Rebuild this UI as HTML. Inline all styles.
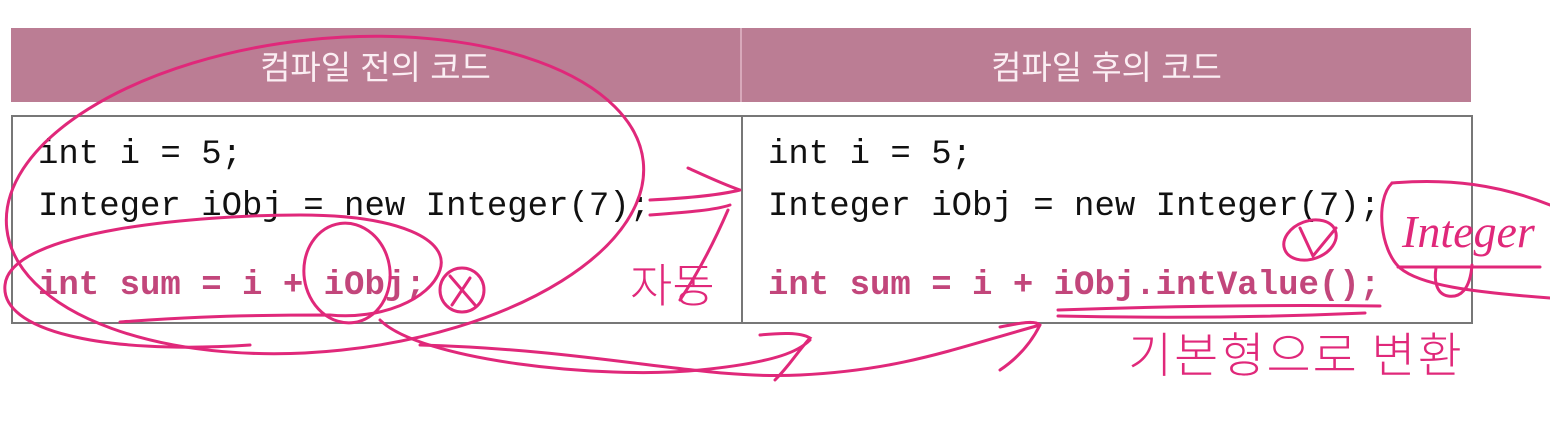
<!DOCTYPE html>
<html><head><meta charset="utf-8"><style>
html,body{margin:0;padding:0;background:#fff;width:1550px;height:436px;overflow:hidden;position:relative}
.hdr{position:absolute;top:28px;height:74px;background:#bb7d94;color:#fbeef3;font:400 33px "Liberation Sans","Noto Sans CJK KR",sans-serif;display:flex;align-items:center;justify-content:center}
.box{position:absolute;left:11px;top:115px;width:1458px;height:205px;border:2px solid #777}
.div{position:absolute;left:741px;top:115px;width:2px;height:207px;background:#777}
.code{position:absolute;font:34px "Liberation Mono",monospace;color:#111;white-space:pre;line-height:1}
.red{color:#c2467b;font-weight:bold}
svg{position:absolute;left:0;top:0}
</style></head><body>
<div class="hdr" style="left:11px;width:729px">컴파일 전의 코드</div>
<div style="position:absolute;left:740px;top:28px;width:2px;height:74px;background:#d8a9bb"></div>
<div class="hdr" style="left:742px;width:729px">컴파일 후의 코드</div>
<div class="box"></div><div class="div"></div>
<div class="code" style="left:38px;top:138px">int i = 5;</div>
<div class="code" style="left:38px;top:190px">Integer iObj = new Integer(7);</div>
<div class="code red" style="left:38px;top:269px">int sum = i + iObj;</div>
<div class="code" style="left:768px;top:138px">int i = 5;</div>
<div class="code" style="left:768px;top:190px">Integer iObj = new Integer(7);</div>
<div class="code red" style="left:768px;top:269px">int sum = i + iObj.intValue();</div>
<svg width="1550" height="436" fill="none" stroke="#e0287a" stroke-width="3" stroke-linecap="round">
<ellipse cx="325" cy="195" rx="320" ry="156" transform="rotate(-6 325 195)"/>
<path d="M250 345 C100 355 0 330 5 285 C10 230 200 215 300 215 C400 215 450 240 440 270 C430 300 380 320 330 315 C200 315 150 320 120 322"/>
<ellipse cx="347" cy="273" rx="43" ry="50" transform="rotate(-8 347 273)"/>
<circle cx="462" cy="290" r="22"/><path d="M450 276 L475 305 M470 278 L452 305"/>
<path d="M650 200 C690 198 720 195 740 190 M650 215 C690 212 715 210 730 205 M688 168 C710 178 725 185 740 190 M728 210 C715 240 700 270 680 300"/>
<text x="630" y="302" fill="#e0287a" stroke="none" font-family="Noto Sans CJK KR,sans-serif" font-size="46" font-weight="300">자동</text>
<path d="M380 320 C420 360 600 380 700 370 C780 362 800 350 810 340 M760 335 C780 333 800 332 810 338 C795 355 790 365 775 380"/>
<path d="M420 345 C600 350 700 380 800 375 C900 370 950 350 1040 325 M1000 327 C1020 323 1035 320 1040 325 C1030 345 1015 360 1000 370"/>
<path d="M1058 310 C1200 305 1300 305 1380 306 M1058 316 C1150 318 1250 318 1365 313"/>
<ellipse cx="1310" cy="240" rx="27" ry="19" transform="rotate(-20 1310 240)"/>
<path d="M1300 228 L1313 256 L1336 228"/>
<path d="M1392 183 C1375 200 1380 250 1400 268 C1420 285 1470 292 1550 298"/>
<path d="M1392 183 C1450 178 1500 185 1550 205"/>
<path d="M1398 267 L1540 267"/>
<path d="M1472 265 C1470 290 1460 298 1448 296 C1436 294 1434 280 1436 268"/>
<text x="1402" y="247" fill="#e0287a" stroke="none" font-family="Liberation Serif,serif" font-style="italic" font-size="46">Integer</text>
<text x="1128" y="372" fill="#e0287a" stroke="none" font-family="Noto Sans CJK KR,sans-serif" font-size="48" font-weight="300" letter-spacing="2">기본형으로 변환</text>
</svg>
</body></html>
